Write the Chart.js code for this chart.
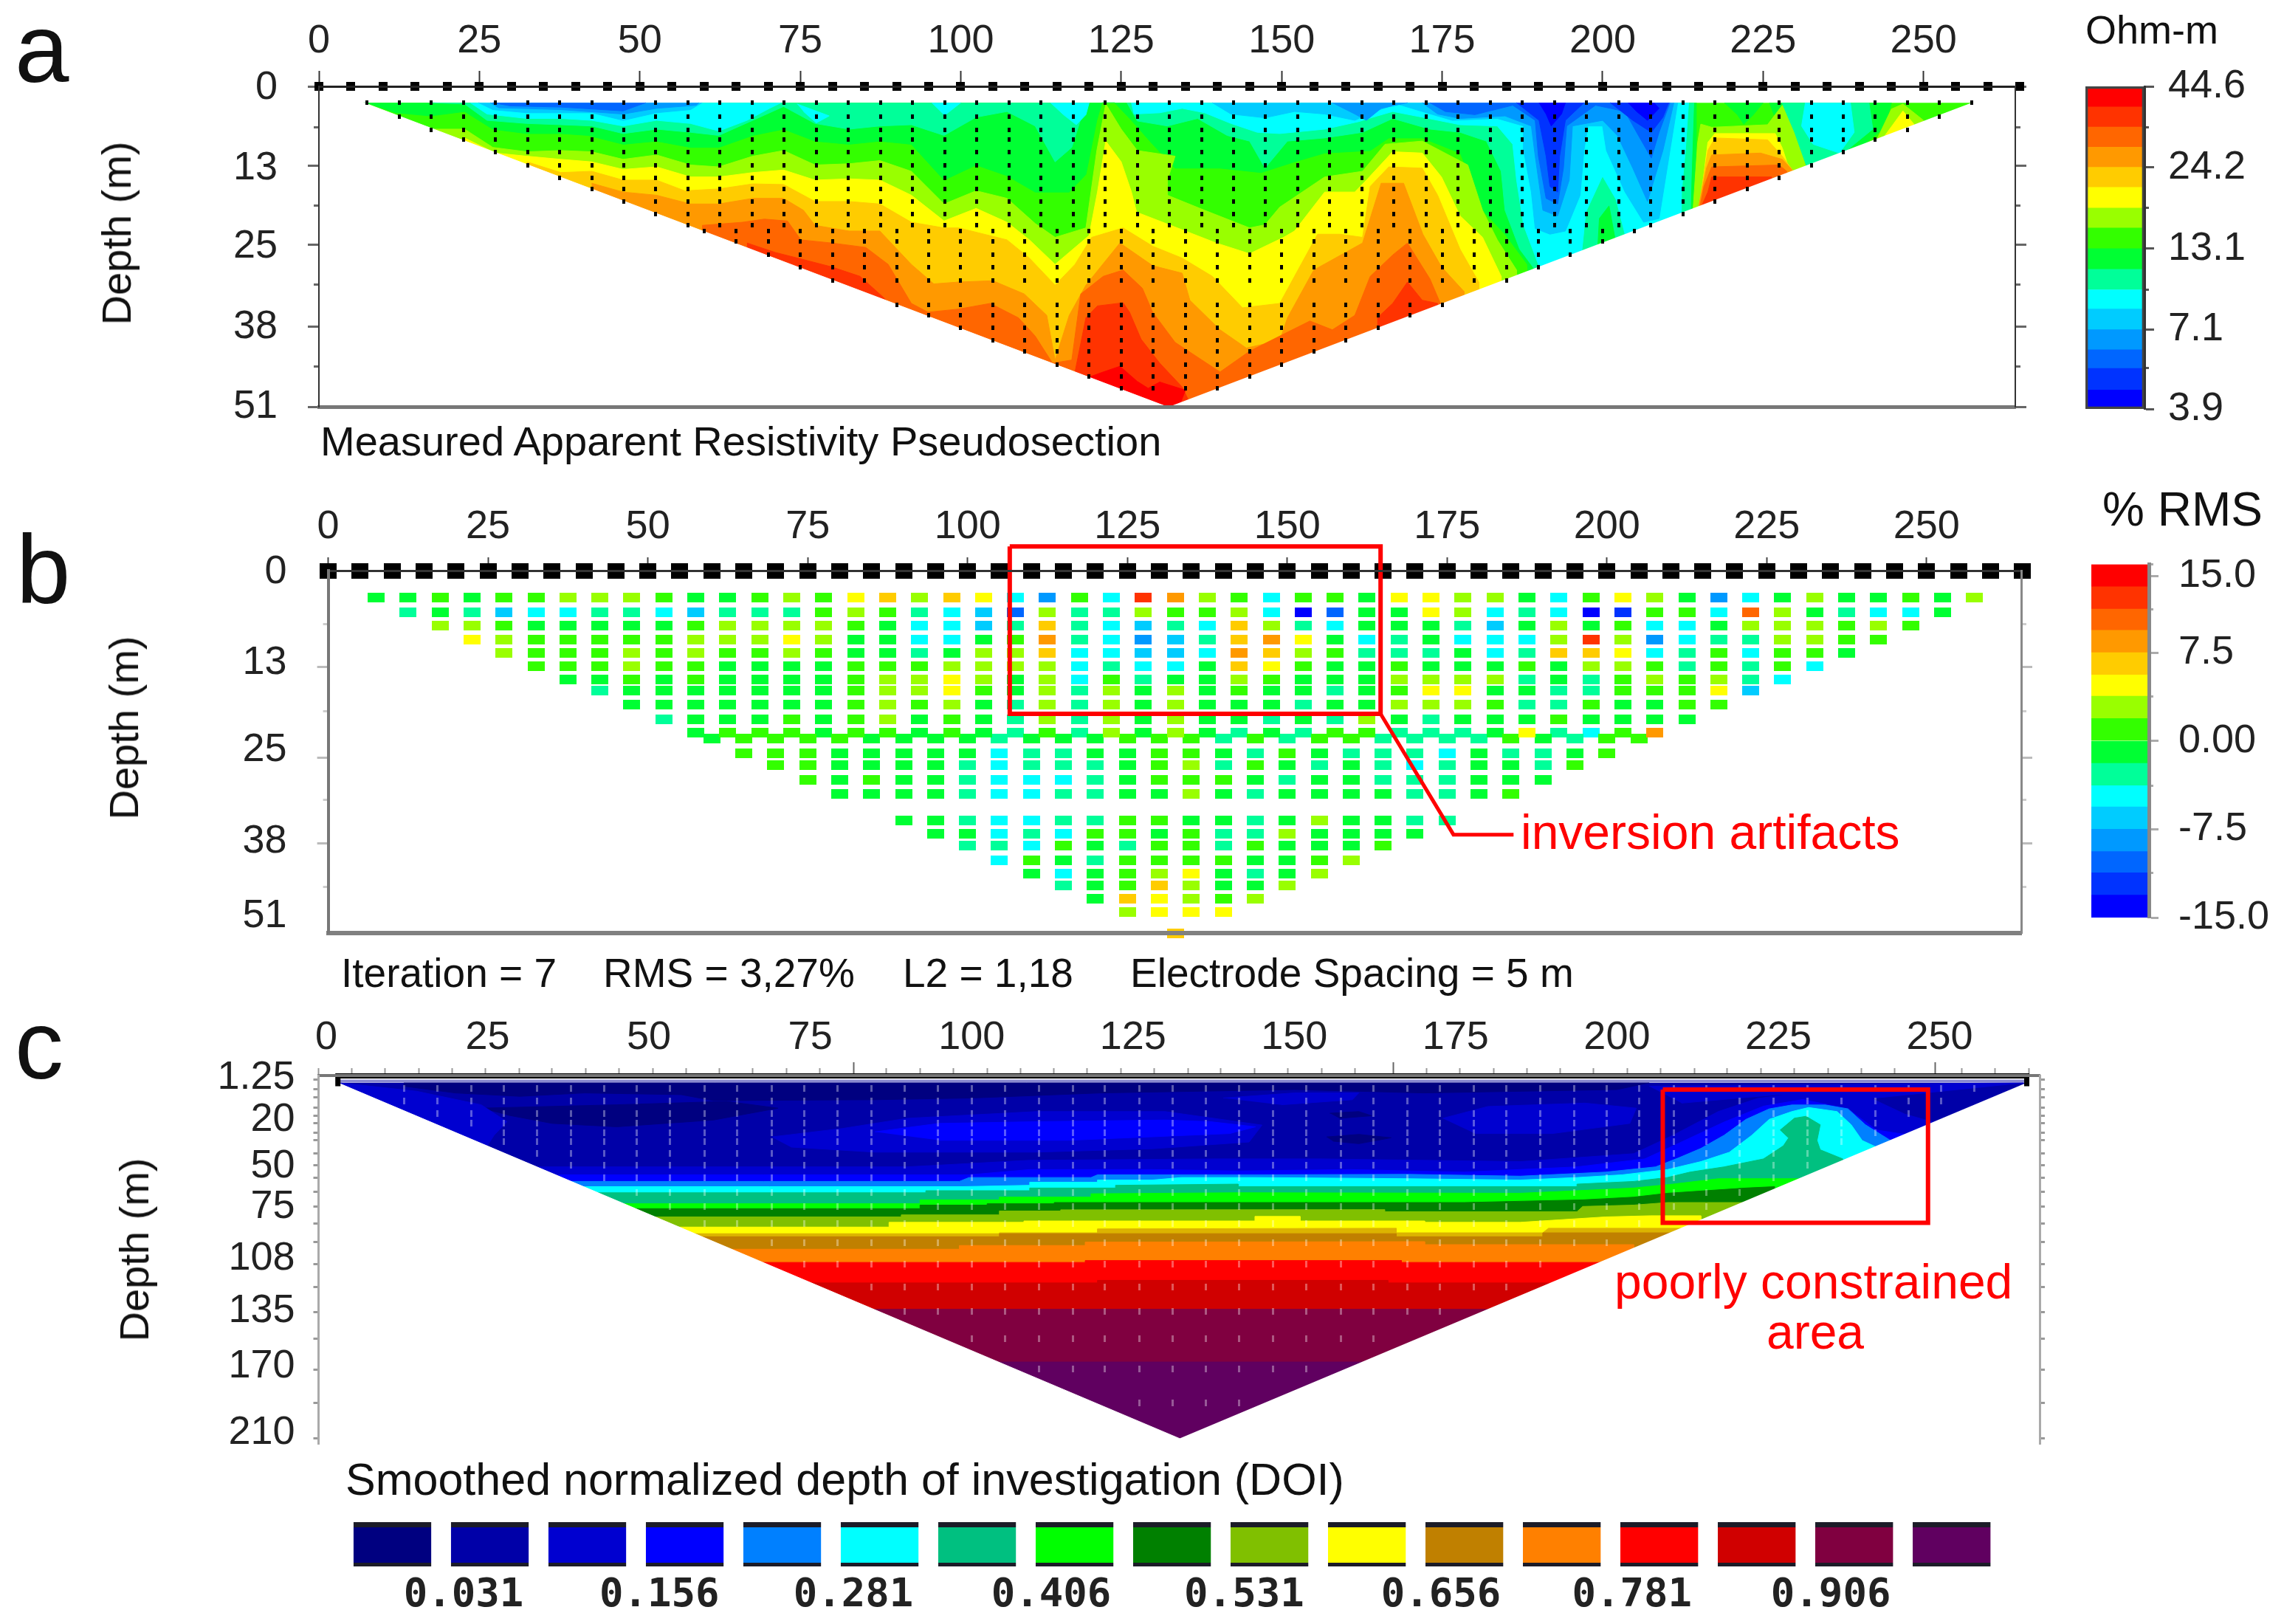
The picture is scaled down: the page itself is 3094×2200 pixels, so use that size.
<!DOCTYPE html>
<html>
<head>
<meta charset="utf-8">
<title>Resistivity sections</title>
<script src="https://cdn.jsdelivr.net/npm/chart.js@4/dist/chart.umd.min.js"></script>
<style>
  html, body { margin: 0; padding: 0; background: #fff; }
  #page { position: relative; width: 3094px; height: 2200px; overflow: hidden; }
  canvas { position: absolute; filter: blur(0.7px); }
  .t { position: absolute; font-family: "Liberation Sans", Arial, sans-serif; color: #111; white-space: nowrap; transform: translateY(-50%); line-height: 1; }
  .v { transform: translate(-50%, -50%) rotate(-90deg); }
  .red { color: #ff0000; }
</style>
</head>
<body>
<div id="page">
  <canvas id="panelA" width="2780" height="640" style="left:0;top:0"></canvas>
  <canvas id="barA" width="294" height="700" style="left:2800px;top:0"></canvas>
  <canvas id="panelB" width="2780" height="720" style="left:0;top:640px"></canvas>
  <canvas id="barB" width="294" height="700" style="left:2800px;top:640px"></canvas>
  <canvas id="panelC" width="2780" height="696" style="left:0;top:1360px"></canvas>
  <canvas id="barC" width="2340" height="160" style="left:420px;top:2040px"></canvas>

  <div class="t" style="left:20px;top:66px;font-size:132px">a</div>
  <div class="t" style="left:22px;top:772px;font-size:132px">b</div>
  <div class="t" style="left:20px;top:1416px;font-size:132px">c</div>
  <div class="t v" style="left:158px;top:316px;font-size:56px">Depth (m)</div>
  <div class="t v" style="left:168px;top:986px;font-size:56px">Depth (m)</div>
  <div class="t v" style="left:182px;top:1693px;font-size:56px">Depth (m)</div>
  <div class="t" style="left:434px;top:598px;font-size:56px">Measured Apparent Resistivity Pseudosection</div>
  <div class="t" style="left:2825px;top:40px;font-size:54px">Ohm-m</div>
  <div class="t" style="left:2848px;top:690px;font-size:64px">% RMS</div>
  <div class="t" style="left:462px;top:1318px;font-size:55px">Iteration = 7</div>
  <div class="t" style="left:817px;top:1318px;font-size:55px">RMS = 3,27%</div>
  <div class="t" style="left:1223px;top:1318px;font-size:55px">L2 = 1,18</div>
  <div class="t" style="left:1531px;top:1318px;font-size:55px">Electrode Spacing = 5 m</div>
  <div class="t red" style="left:2060px;top:1127px;font-size:66px">inversion artifacts</div>
  <div class="t red" style="left:2187px;top:1736px;font-size:66px">poorly constrained</div>
  <div class="t red" style="left:2459px;top:1804px;font-size:66px;transform:translate(-50%,-50%)">area</div>
  <div class="t" style="left:468px;top:2004px;font-size:61px">Smoothed normalized depth of investigation (DOI)</div>
</div>
<script>
// ---- shared values ----
const distanceTicks = [0, 25, 50, 75, 100, 125, 150, 175, 200, 225, 250];
const electrodeX = [0,5,10,15,20,25,30,35,40,45,50,55,60,65,70,75,80,85,90,95,100,105,110,115,120,125,130,135,140,145,150,155,160,165,170,175,180,185,190,195,200,205,210,215,220,225,230,235,240,245,250,255,260,265];
const bandColors = ['#0000ff','#0033ff','#0066ff','#0099ff','#00ccff','#00ffff','#00ff99','#00ff33','#33ff00','#99ff00','#ffff00','#ffcc00','#ff9900','#ff6600','#ff3300','#ff0000'];

// ---- colour bar a (Ohm-m) ----
const rhoLevels = [3.9,4.5,5.3,6.1,7.1,8.3,9.6,11.2,13.1,15.3,17.8,20.8,24.2,28.2,32.8,38.2,44.6];
const rhoTicks = [3.9,7.1,13.1,24.2,44.6];
const rhoMinorTicks = [5.3,9.6,17.8,32.8];

// ---- colour bar b (% RMS) ----
const rmsLevels = [-15,-13.1,-11.2,-9.4,-7.5,-5.6,-3.8,-1.9,0,1.9,3.8,5.6,7.5,9.4,11.2,13.1,15];
const rmsLabelPos = [-15,-7.5,0,7.5,14];
const rmsTickLabels = ['-15.0','-7.5','0.00','7.5','15.0'];
const rmsMinorTicks = [-11.2,-3.8,3.8,11.2,15];

// ---- panel a, depth axis ----
const aDepthLabelPos = [0.2,13,25.5,38.3,51];
const aDepthLabels = ['0','13','25','38','51'];
const aDepthMajor = [0,12.6,25.2,38.2,51];
const aDepthMinor = [6.5,19,31.5,44.5];
const aRowDepth = [2.6,4.8,6.9,8.5,10.5,12.5,14.6,16.3,18.3,20.3,22.1,23,24.7,26.8,28.8,30.9,34.7,36.4,38.4,40.4,42.1,44.2,46.1,48];

// ---- panel a, contours: [distance m, depth m] ----
const aTriangle = [[7,2.6],[132.3,51],[257.5,2.6]];
const aMaskLeft = [[0,2.6],[7,2.6],[132.3,51],[0,51]];
const aMaskRight = [[257.5,2.6],[264.3,2.6],[264.3,51],[132.3,51]];

const aCold00ff33 = [[7,2.6],[8,2.8],[12,4.2],[17.4,4.7],[22.7,4],[27.1,6.8],[32.4,7.5],[37.7,7.5],[42,7.8],[47.4,9.2],[52.6,8.7],[57.9,9.7],[62.3,9.7],[67.6,7.8],[72.4,6.8],[77.3,8.7],[82.6,9.2],[87.4,8.7],[92.3,9.2],[97.4,14.9],[102.4,12.5],[107.2,14.2],[111.6,16.8],[116.9,16.8],[119.5,14],[121.2,5.4],[122,2.6],[124,2.6],[126.6,5.4],[129.9,9.2],[133.4,13],[140.4,13],[146.8,13.7],[152,12],[156.7,10.6],[163.8,10.2],[166.7,8.2],[171.9,8.2],[177.8,10.6],[180.1,15.9],[181.3,19.7],[184.8,23.5],[188.3,28.3],[190,51],[214,51],[214.5,20],[214.6,2.6]];
const aCold00ff33Right = [[226,2.6],[228,8],[231.5,15],[238,11.5],[244,6.5],[245,2.6]];
const aCold00ff33Top = [[219,2.6],[221,4.5],[222,6],[223.5,4.5],[225,2.6]];
const aCold00ff99Left = [[17.4,2.6],[22.7,2.8],[26.2,5.4],[32.4,5.9],[37.7,6.1],[42.5,6.3],[47.4,7.5],[52.6,6.8],[57.9,7.3],[62.3,7.8],[67.6,5.4],[72.4,3.2],[77.3,5.9],[82.6,6.8],[87.4,6.3],[92.3,6.1],[97.4,7.8],[102.4,4.9],[107.2,4],[111.6,6.3],[114.7,12],[117.3,9.7],[119.5,2.6]];
const aCold00ff99Main = [[125.9,2.6],[127.5,5.5],[132.2,6.3],[136.9,5.1],[141.5,7.8],[145,8.7],[147.4,13],[150.9,8.7],[156.7,8.2],[162.6,7.3],[167.3,5.1],[173.1,6.8],[177.8,7.3],[181.9,8.7],[184.2,13.5],[184.8,19.7],[187.1,25.9],[189.5,29.2],[192,51],[213,51],[213.8,14.9],[214.2,2.6]];
const aCold00ff99Right = [[228,2.6],[229.5,8],[232,13],[238,10.2],[242.1,6.8],[241.5,2.6]];
const aCold00ffffLeft = [[23.6,2.6],[26.2,4.4],[32.4,5.1],[37.7,5.1],[42.5,5.4],[47.4,6.3],[52.6,5.4],[57.9,5.9],[62.3,7.1],[66.7,5.4],[70.2,3.5],[72,2.6]];
const aCold00ffffPatch1 = [[74.5,2.8],[79.5,4.7],[77.5,5.8],[75.5,4]];
const aCold00ffffPatch2 = [[95.5,2.6],[97.5,4.6],[100,2.6]];
const aCold00ffffPatch3 = [[114,2.6],[116,4.5],[118,6.1],[119.5,4.5],[120,2.6]];
const aCold00ffffMain = [[126.6,2.6],[127,4.4],[131,4.2],[134.5,3.5],[138,4.2],[142.1,5.9],[146.2,7.3],[149.7,7.5],[156.7,6.8],[162,5.6],[164.9,4.7],[167.3,4],[171.9,4.9],[177.8,6.1],[183.6,6.3],[186,9.2],[186.6,14.9],[187.7,22.1],[190,28.3],[194,51],[212,51],[212.3,16.8],[212.9,10.2],[213.4,2.6]];
const aCold00ffffRight = [[231.6,2.6],[231,6.3],[232.8,9.2],[236.9,10.6],[239.2,7.3],[238.6,2.6]];
const aCold00ccffLeft = [[24.9,2.6],[27.1,3.7],[32.4,4.2],[37.7,4.2],[42.5,4.2],[47.4,5.4],[52.6,4.2],[57.9,3.7],[59.7,2.6]];
const aCold00ccffMain = [[139.2,2.6],[142.1,4.4],[147.4,5],[152,4],[156.7,4.4],[161.4,5.4],[164.4,4],[168,2.8],[171.9,4],[176.6,5.4],[183.6,5.1],[187.7,6.3],[187.7,10.2],[188.9,16.8],[189.5,22.6],[191.8,23.5],[194.2,23],[196.5,17.3],[197.1,10.2],[197.7,6.3],[200,6.3],[200.6,10.2],[203.5,16.8],[206.4,21.6],[208.8,21],[210.5,10.2],[211.7,2.6]];
const aCold0099ffLeft = [[26.7,2.6],[28,3.4],[37.7,3.7],[47.4,4.4],[52.6,3.5],[58.8,3],[59.2,2.6]];
const aCold0099ffMid = [[157.9,2.6],[161.4,4.4],[163.2,5.4],[165.5,3.5],[169.6,2.6]];
const aCold0099ffMain = [[171.9,2.6],[174.3,4.4],[177.8,5.1],[184.8,4.7],[188.9,6.3],[189.5,11.1],[190.7,19.7],[193,20.6],[194.8,14.9],[195.3,6.3],[200,5.4],[202.3,7.8],[204.7,13],[207,18.3],[209.4,10.2],[211.1,2.6]];
const aCold0066ffLeft = [[27.1,2.6],[29.8,3.1],[37.7,3.3],[47.4,3.9],[50.9,2.6]];
const aCold0066ffMain = [[173.1,2.6],[175.5,4],[180.1,4.5],[186,3],[189.5,5.4],[190,11.1],[191.2,17.8],[193,18.7],[193.9,13],[194.4,6.3],[198.9,3],[203.5,4],[205.3,7.3],[207.6,11.4],[208.8,7.3],[210.5,2.6]];
const aCold0033ffA = [[186.6,2.6],[190.1,5.4],[191.2,11.1],[191.8,15.9],[193,16.8],[193.3,11.1],[194.2,5.4],[197.1,2.6]];
const aCold0033ffB = [[201.2,2.6],[204.7,5.4],[207.6,7.3],[209.4,4.9],[210.3,2.6]];
const aCold0000ffA = [[190.1,2.6],[191.2,4.4],[192,6.3],[193.6,4.4],[194.2,2.6]];
const aCold0000ffB = [[204,2.6],[205.3,4],[207,5.4],[208.8,3.5],[208,2.6]];
const aFinger00ff99 = [[196.5,30],[197.5,20],[200,14.5],[202,18],[205,30]];
const aFinger00ff33 = [[199,30],[199.5,21],[201,19],[203,30]];

const aHot99ff00 = [[17.4,6.8],[22.7,6.8],[27.1,9.7],[32.4,10.4],[37.7,10.2],[42.5,10.4],[47.4,11.6],[52.6,10.9],[57.9,12.5],[62.3,12.8],[67.6,11.1],[72.4,10.2],[77.3,12.5],[82.6,12.3],[87.4,11.8],[92.3,13.5],[97.4,18.7],[102.4,16.6],[107.2,17.8],[111.6,21.8],[114.7,24],[119.5,22.5],[121.2,10.2],[122.6,2.8],[125,6.8],[127.5,10.2],[133.4,11.1],[132.2,14.9],[132.2,17.3],[138,19.7],[145,22.5],[147.4,22],[149.7,19.2],[153.2,16.8],[156.7,14.4],[162.6,13.5],[166.1,9.2],[171.9,8.7],[179,12.5],[181.3,19.7],[183.6,24.4],[186.6,29.2],[186.6,51],[17.4,51]];
const aHotffff00 = [[22.7,8.2],[27.5,10.6],[32.4,11.1],[37.7,11.6],[42.5,12],[47.4,13.2],[52.6,12.8],[57.9,14.4],[62.3,14.4],[67.6,13.7],[72.4,13.3],[77.3,14.9],[82.6,14.7],[87.4,14.9],[92.3,17.3],[97.4,21.4],[102.4,19.4],[107.2,21.6],[110.7,24.4],[114.7,28.3],[120,23.7],[121.3,16.8],[122.6,8.7],[125,12],[126.6,16.8],[127.4,20],[134.5,22.8],[139.8,24.9],[145,26.6],[150.3,24],[152,23],[156.7,16.8],[161.4,16.8],[163.2,14.9],[167.3,10.4],[171.9,10.6],[174.9,14.4],[177.8,20.6],[181.3,24],[184.2,30.2],[184.2,51],[22.7,51]];
const aHotffcc00 = [[32.4,12],[37.7,13.7],[42.5,13.5],[47.4,14.9],[52.6,14.9],[57,16.6],[62.3,16.3],[67.6,15.5],[72.4,15.6],[77.3,18.3],[82.6,18.3],[87.4,18.7],[92.3,21.6],[97.4,22.5],[99.7,22.5],[107.2,24.4],[110.7,27.3],[114.7,31.6],[117.8,28.3],[120.4,24],[125.3,22.5],[129.9,25.4],[134.5,27.3],[139.2,30.2],[143.9,35.2],[149.7,34.5],[152,30.2],[155.6,23.5],[159.1,23.5],[162.6,24],[163.8,15.9],[166.7,12.8],[171.9,13],[174.3,17.3],[177.8,25.9],[180.7,31.1],[180.7,51],[32.4,51]];
const aHotff9900 = [[42.5,15.4],[47.4,16.8],[52.6,17.3],[57.9,18.7],[62.3,18.7],[67.6,17.8],[72.4,17.8],[75.5,19.7],[77.3,22.1],[82.6,23],[87.4,23],[92.3,28.3],[95.8,31.4],[99.7,31.1],[105,30.9],[109.9,33],[113.4,36.4],[114.7,43.5],[116.9,36.4],[119.5,31.6],[124.8,24.9],[129.9,28.5],[134.5,29.7],[135.7,34],[140.4,38.7],[144.5,41.6],[149.7,40.4],[150.9,36.8],[155,29.2],[162.6,24.9],[165.5,15.4],[169,15.4],[172,23.5],[174.9,28.7],[178.4,32.6],[178.4,51],[42.5,51]];
const aHotff6600 = [[59.7,22.1],[66,21.6],[69.4,21.1],[73,21.4],[75.1,24.4],[79.9,24.9],[85.2,25.6],[88.7,28.3],[92.3,34.5],[94.9,35.9],[99.7,35.4],[104.6,34.5],[109,36.8],[111.6,39.7],[114.3,44],[117.3,43.5],[118.7,33],[122.2,30.2],[125.3,29.2],[128.3,32.1],[129.9,35.9],[133.4,40.7],[140.4,45.4],[145,42.1],[149.7,39.7],[154.4,37.3],[157.9,38.7],[161.4,36.4],[163.8,30.2],[167.3,26.8],[169.6,24.9],[173.1,30.6],[174.9,34.9],[174.9,51],[59.7,51]];
const aHotff3300Left = [[66.7,24.9],[71.1,26.4],[74.6,27.3],[79.9,28.7],[84.3,30.2],[87.9,33.5],[90,36],[66.7,36]];
const aHotff3300Mid = [[117.8,45.4],[119.5,36.8],[121.3,34.9],[125.3,34.4],[126.3,35.9],[128.1,40.2],[131,44],[134.5,47.8],[136,51],[117.8,51]];
const aHotff3300Right = [[164.9,36.8],[167.3,34.5],[169.6,31.1],[171.9,34],[174.3,34.5],[174.3,51],[164.9,51]];
const aHotff0000 = [[119.5,46.4],[122.2,45.4],[124.8,44.5],[127.5,46.9],[129.2,48],[131,47],[135,48.3],[134,51],[120,51]];
const aBlob99ff00 = [[214,21],[214.8,9],[215.3,6],[217,6.5],[225.7,6.1],[228,3],[229.8,7.3],[231.6,12.5],[231.6,20]];
const aBlobffff00 = [[215.2,18.7],[216.4,8.9],[217.5,7.5],[226.9,7.5],[228,9.8],[229.2,13.6],[229.2,20]];
const aBlobffcc00 = [[215,19],[216.4,10.2],[217.5,8.2],[225.7,8.5],[228,11.1],[229.8,13.6],[229.8,20]];
const aBlobff9900 = [[215,19],[216.2,13],[217,10.9],[224.6,10.6],[228,11.6],[229.8,13.6],[229.8,20]];
const aBlobff6600 = [[215,20],[215.8,15.9],[217,12.8],[227.5,12.5],[228.7,13.5],[228.7,20]];
const aBlobff3300 = [[215,20],[216.4,16.8],[217,14.4],[226.3,14.4],[226.3,20]];
const aSmall99ff00 = [[242,10],[245,3.6],[246.8,2.8],[250,5.4],[250.5,8]];
const aSmallffff00 = [[243,9.2],[246.8,3.9],[248.5,6],[248,8]];
const aSmallffcc00 = [[243.2,9],[245.5,7.7],[247.6,8],[245,9.5]];

// ---- panel b, depth axis ----
const bDepthLabelPos = [0.2,13,25.2,38.1,48.6];
const bDepthLabels = ['0','13','25','38','51'];
const bDepthMajor = [13.6,26.3,38.4];
const bDepthMinor = [7.55,19.8,32.3,44.5];

// ---- panel b, misfit grid: one list per datum level ----
const rowDepth = [3.84,5.92,7.79,9.66,11.63,13.5,15.27,16.93,18.9,20.88,22.75,23.68,25.66,27.42,29.4,31.37,35.11,37.08,38.74,40.72,42.69,44.35,46.12,47.99,51];
const rowStartX = [7.5,12.5,17.5,22.5,27.5,32.5,37.5,42.5,47.5,52.5,57.5,60,65,70,75,80,90,95,100,105,110,115,120,125,132.5];
const rmsRow01 = [-1,-1,1,-1,1,1,3,3,3,1,-1,-1,1,3, 1,5,7,3,7,5,-5,-8,1,-5,12,8,3,1,-5,1, 1,-1,5,5,3,3,-1,-5,1,5,3,-1,-8,-5,-1,3,-1,-1,1,-1,3];
const rmsRow02 = [-3,-1,-3,-7,-5,-5,-3,-3,-5,-7,-3,-3,-3, 1,3,1,-3,-5,-7,-10,3,-3,-3,3,1,1,3,-5,-14, -10,-1,-1,5,3,-5,-3,-5,-14,-12,1,1,-5,10,3,-1,-3,-5,-5,-1];
const rmsRow03 = [3,3,1,-1,-1,-1,-1,-1,1,3,3,3, 3,1,-1,-5,-5,-7,-3,7,-3,-5,-7,-3,-5,7,3,-3, -5,-1,-1,-1,-3,-7,-1,3,-1,1,-5,-5,-1,3,3,3,1,3,1];
const rmsRow04 = [5,3,1,1,1,1,1,3,3,3,5, 3,-1,-1,-5,-5,-1,1,8,-3,-5,-8,-7,-3,7,8,5, -1,-5,-3,-1,-5,-5,-5,3,12,3,-8,-5,-3,-3,3,3,1,1];
const rmsRow05 = [3,1,1,1,3,1,3,1,1,3, 1,-1,-1,-3,-1,3,3,7,-5,-5,-7,-7,-5,8,7,3, 1,-3,-3,-3,-1,-5,-3,7,7,5,-5,-3,1,-5,1,1,-1];
const rmsRow06 = [1,1,1,3,1,1,-1,-1,-1, -1,1,1,1,3,3,3,3,-5,-3,-5,-5,-1,7,5,1, -1,-1,1,-1,-1,-1,1,-1,3,3,1,-3,1,-3,1,-5];
const rmsRow07 = [-1,-1,1,-1,1,-1,-1,-1, -1,1,3,3,5,3,-1,3,-5,1,-3,-1,-1,3,1,-1, -1,-1,3,3,3,3,-3,-1,-3,1,3,1,3,-3,-5];
const rmsRow08 = [-3,-1,-1,-1,-1,-1,-1, -1,1,3,3,5,1,-1,3,-3,3,-1,3,-1,1,-1,-1, -3,-1,1,5,5,-1,-1,-3,-3,1,1,1,5,-7];
const rmsRow09 = [-1,-1,-1,-1,-1,-1, -1,1,3,1,3,-1,-3,3,-3,3,-1,3,-1,-1,-1,-3, -1,-1,3,3,3,1,-3,-3,1,-1,-1,1,1];
const rmsRow10 = [-3,-1,-1,-1,1, -1,1,3,-1,1,-1,-3,3,-3,3,-1,3,-1,-1,-3,-1, -3,3,-1,-3,-1,-1,-1,1,-1,-1,-1,-1];
const rmsRow11 = [-1,1,1,1, -1,1,1,-1,1,-1,-3,1,-3,3,-1,3,-1,-3,-1,-3, 1,1,-3,-3,-3,-1,5,-3,-5,1,8];
const rmsRow12 = [-1,1,1, 1,1,-1,-1,-1,-1,-3,-1,-1,-1,1,1,1,-3,1,-3, 1,1,-3,-3,-3,-3,1,-1,-3,1,1];
const rmsRow13 = [1,1,1,-1,-1,-1,-1,-1,-5,-3,-3,-1,-1,1,1,-1,-3,1,-1,-3,-3,-3,-5,-1,-3,-3,-1,1];
const rmsRow14 = [1,1,-1,-1,-1,-1,-3,-5,-3,-3,-3,-1,1,3,-3,1,-1,-3,-1,-3,-5,-3,-1,-1,-3,1];
const rmsRow15 = [1,-1,1,-1,-1,-3,-5,-5,-5,-3,-1,1,1,1,-1,-3,-1,-1,-3,-3,-3,-1,-1,-1];
const rmsRow16 = [-1,-1,-1,-1,-3,-5,-5,-3,-3,-1,-1,3,-1,-3,-1,-1,-1,-1,-3,-3,-1,1];
const rmsRow17 = [-1,-1,-3,-5,-5,-3,-3,1,1,-1,-1,-3,-1,3,-1,-1,-3,-3];
const rmsRow18 = [-1,-1,-5,-3,-5,1,1,-1,1,-3,-3,3,-1,-1,-1,-1];
const rmsRow19 = [-3,-3,-5,1,-1,-3,1,1,-3,1,-1,-1,-1,1];
const rmsRow20 = [-5,1,-1,-3,1,1,1,1,-1,-1,1,3];
const rmsRow21 = [-1,-5,-1,1,3,5,-1,-3,-1,3];
const rmsRow22 = [-3,-1,1,7,3,-1,-1,3];
const rmsRow23 = [-1,7,5,3,1,3];
const rmsRow24 = [3,5,5,5];
const rmsRow25 = [7];
const rmsRows = [rmsRow01,rmsRow02,rmsRow03,rmsRow04,rmsRow05,rmsRow06,rmsRow07,rmsRow08,rmsRow09,rmsRow10,rmsRow11,rmsRow12,rmsRow13,rmsRow14,rmsRow15,rmsRow16,rmsRow17,rmsRow18,rmsRow19,rmsRow20,rmsRow21,rmsRow22,rmsRow23,rmsRow24,rmsRow25];

// annotation boxes, in axis units
const bArtifactBox = [[106.6,-3.4],[164.6,-3.4],[164.6,20.15],[106.6,20.15],[106.6,-3.4]];
const bArtifactLeader = [[164.6,20.15],[176,37.15],[185.4,37.15]];
const cPoorBox = [[207.1,7],[248.2,7],[248.2,85.8],[207.1,85.8],[207.1,7]];

// ---- panel c, axes ----
const cDepthLabelPos = [0,24.9,52.4,76.4,107,138,170.7,210];
const cDepthLabels = ['1.25','20','50','75','108','135','170','210'];
const cDepthMarks = [1.2,6.7,11.4,17.6,22.3,27,32.4,37.1,44.9,51.9,59,67.5,76.1,86.2,97.2,110.4,123.7,138.5,154.1,172.5,192.3,213.3];
const cTopMinor = [-1.2,4,9.1,14.3,19.5,24.7,29.9,35,40.2,45.4,50.6,55.8,60.9,66.1,71.3,76.5,86.8,92,97.2,102.4,107.6,112.7,117.9,123.1,128.3,133.5,138.6,143.8,149,154.2,159.4,170.5,175.7,180.9,186.1,191.2,196.4,201.6,206.8,212,217.1,222.3,227.5,232.7,237.9,243,253.4,258.6,263.8];
const cTopMajor = [81.7,165.4,249.3];
const cDotRows = [6.2,13.7,21.2,27,32.4,37.9,44.6,51.6,59.3,67.8,76.1,86.2,97.5,110.4,123.7,138,154.1,172,192.3];
const cDotColumns = [6.8,12.1,17.2,22.5,27.5,32.7,37.9,43.1,48.1,53.3,58.6,63.7,69,74.1,79.2,84.5,89.6,94.8,100,105.2,110.5,115.7,120.6,126,131.1,136.3,141.5,146.7,151.9,157.2,162.3,167.5,172.6,177.8,182.9,188.1,193.4,198.4,203.5,208.8,213.9,219,224.3,229.5,234.8,240,245.2,250.2,255.4,260.5];

// ---- panel c, DOI bands: [distance m, axis depth] ----
const cTriangle = [[1.8,3],[132.2,213.3],[263.5,3]];
const cMaskLeft = [[-1.2,3],[1.8,3],[132.2,213.3],[132.2,216.5],[-1.2,216.5]];
const cMaskRight = [[263.5,3],[265.5,3],[265.5,216.5],[132.2,216.5],[132.2,213.3]];
const cNavyTop = [[12,3],[205,3],[200,7],[170,9],[150,7],[120,9],[100,12],[85,13],[60,13.5],[55,10],[40,9],[30,11],[20,9],[12,5]];
const cNavyLeft = [[24,18],[45,16],[62,14],[70,18],[60,25],[45,29],[35,27],[28,22]];
const cNavySmallA = [[155,35],[160,33.5],[165,35.5],[160,39],[156,37.5]];
const cNavySmallB = [[155.5,21],[160,20],[162,22.5],[157,24]];
const cBlueLeft = [[2,3],[14,8],[24,16],[28,26],[26,34],[25,40],[15,30]];
const cBlueMid = [[69,35],[80,30],[90,24],[110,20],[130,20],[145,28],[143,38],[128,42],[110,44],[85,44],[72,41]];
const cBlueRight = [[173,24],[180,17],[195,15],[203,18],[202,27],[190,33],[178,33]];
const cBlueUpper = [[139,12],[150,9],[160,9],[159,13],[148,16]];
const cBlueCorner = [[205,5],[263,3],[240,12],[225,10],[210,15]];
const cBrightMid = [[85,32],[95,27],[110,26],[130,25],[137,26],[144,29],[140,33],[115,37],[95,37]];
const cTop0000d0 = [[30.3,52.7],[90,52.7],[109,48.8],[137.5,48],[154.4,48],[185,49.6],[202.6,44.9],[208.7,34],[215.7,20],[221.8,12.2],[228.8,9],[237.6,9],[244.6,21.5],[249,26.2],[260,30]];
const cTop0000ff = [[36,57.4],[99.6,57.4],[109,54.3],[128,54.3],[141.3,55.1],[158.8,54.3],[176.3,55.8],[193.8,52.7],[204.3,48],[209.6,38.7],[216.6,26.2],[222.7,16.8],[228.8,12.9],[235.8,18.4],[240.2,30.9],[245.5,34],[246,50]];
const cTop0080ff = [[37.4,61.3],[98.1,61.3],[99.6,59],[118.5,59],[119.5,57.4],[143.9,57.4],[167.5,57.1],[185,58.2],[198.2,55.8],[206,52.7],[209.6,47.3],[213,41.8],[216.6,34],[220,24.6],[223.6,18.4],[227.1,16.1],[232.3,16.1],[235.8,18.4],[238.5,27.8],[241.1,34],[242.4,37.1],[243,60]];
const cTop00ffff = [[38.8,64.4],[98.6,64.4],[109,63.6],[109,61.8],[119.5,61.8],[119.5,60.5],[128,60.5],[132.5,59],[143.9,59],[167.5,59.7],[185,60.5],[193.8,59],[200.8,57.4],[207.8,54.3],[213,49.6],[217.4,44.1],[220.9,34],[223.6,24.6],[227.1,20],[229.7,17.6],[234.1,20],[236.3,27.8],[238,37.1],[240.2,41],[240.6,70]];
const cTop00c080 = [[40.7,68],[92.9,68],[92.9,66.8],[109,66.8],[109,65.2],[122.3,65.2],[122.3,63.6],[141.3,62.9],[141.3,64.4],[193.8,64.4],[193.8,62.9],[202.6,61.3],[207.8,59],[211.3,55.8],[216.6,52.7],[222.7,48],[225.8,40.2],[226.6,35.6],[225.3,30.9],[227.5,23.9],[229.3,22.8],[231.5,27.8],[231,37.1],[231.5,42.6],[235,48],[236,90]];
const cTop00ff00 = [[44.5,74.5],[92,74.5],[92,72.2],[104.3,72.2],[104.3,70.6],[118.5,70.6],[118.5,68.6],[141.3,68],[185,68.3],[193.8,66.8],[202.6,65.2],[208.7,62.9],[215.7,59.7],[228.8,59.7]];
const cTop008000 = [[46.9,77.4],[92,77.4],[92,75.3],[102.4,75.3],[102.4,74.5],[112.8,74.5],[112.8,73.8],[176.3,73.8],[194.7,72.2],[202.6,70.6],[207.8,68.3],[220,65.2],[224.4,64.4]];
const cTop80c000 = [[50.2,82.3],[89.1,82.3],[89.1,81.1],[104.3,81.1],[104.3,78.8],[113.8,78.8],[113.8,78.1],[164,78],[164,79.2],[193.8,79.2],[194.7,76.1],[202.6,75.3],[207.8,73.8],[220,73.8]];
const cTopffff00 = [[54,88.3],[87.2,88.3],[87.2,85.5],[108.1,85.5],[108.1,84.7],[143.9,84.7],[143.9,82],[150.9,82],[150.9,84.7],[170.2,84.7],[170.2,85.5],[185,85.5],[198.2,82.3],[205.2,81.6],[213,81.6]];
const cTopdcb400 = [[55.9,92.2],[104.3,92.2],[104.3,91.7],[119.5,91.7],[119.5,89.4],[165.8,89],[165.8,91.7],[188.5,91.7],[189.4,89],[211.3,89]];
const cTopc08000 = [[56.9,94],[104.3,94],[104.3,92.2],[165.8,92.2],[165.8,94],[188.5,94],[188.5,91.7],[211.3,91.7]];
const cTopff8000 = [[61.6,101.4],[98.1,101.4],[98.1,99.2],[117.6,99.2],[117.6,97.2],[170.2,96.9],[170.2,98.7],[202.6,98.7]];
const cTopff0000 = [[66.4,109.2],[117.6,109.2],[117.6,108.1],[166.6,108.1],[166.6,109.2],[198.2,109.2]];
const cTopd00000 = [[73.9,121.3],[119.5,121.3],[119.5,119.8],[164.5,119.8],[164.5,121.3],[189.4,121.3]];
const cTop800040 = [[83.4,136.9],[180.7,136.9]];
const cTop600060 = [[104.3,168.1],[160.5,168.1]];

// ---- DOI legend ----
const doiColors = ['#000080','#0000a8','#0000d0','#0000ff','#0080ff','#00ffff','#00c080','#00ff00','#008000','#80c000','#ffff00','#c08000','#ff8000','#ff0000','#d00000','#800040','#600060'];
const doiSwatchX = [0,1,2,3,4,5,6,7,8,9,10,11,12,13,14,15,16];
const doiTickPos = [0.73,2.74,4.73,6.76,8.74,10.76,12.72,14.76];
const doiTickLabels = ['0.031','0.156','0.281','0.406','0.531','0.656','0.781','0.906'];

// ---- helpers ----
const tickFont = { family: '"Liberation Sans", Arial, sans-serif', size: 54 };
const tickColor = '#222';

function makeRect(w, h, color) {
  const c = document.createElement('canvas');
  c.width = w; c.height = h;
  const g = c.getContext('2d');
  g.fillStyle = color;
  g.fillRect(0, 0, w, h);
  return c;
}
function pts(list) { return list.map(p => ({ x: p[0], y: p[1] })); }
function poly(list, color) {
  return { data: pts(list), showLine: true, fill: 'shape', backgroundColor: color, borderColor: color, borderWidth: 1, pointRadius: 0, tension: 0 };
}
// band whose upper edge is given: closed down to the bottom of the plot
function polyDown(list, color, bottom) {
  const last = list[list.length - 1], first = list[0];
  return poly(list.concat([[last[0], bottom], [first[0], bottom]]), color);
}
function line(list, color, width) {
  return { data: pts(list), showLine: true, fill: false, borderColor: color, borderWidth: width, pointRadius: 0, tension: 0, clip: false };
}
function marks(list, img) {
  return { data: pts(list), showLine: false, pointStyle: img, pointRadius: 6, clip: false };
}
// axis that carries tick marks only, no room taken in the layout
function markAxis(pos, values, len, width, color, min, max, border, type) {
  const horiz = pos === 'top' || pos === 'bottom';
  return {
    type: type || 'linear', position: pos, min: min, max: max, weight: -1,
    reverse: !horiz && !type,
    afterBuildTicks: s => { s.ticks = values.map(v => ({ value: v })); },
    afterFit: s => { if (horiz) s.height = 0; else s.width = 0; },
    ticks: { display: false, autoSkip: false },
    grid: { drawOnChartArea: false, drawTicks: true, tickLength: len, tickWidth: width, tickColor: color },
    border: border ? { display: true, color: border.color, width: border.width, z: 1 } : { display: false }
  };
}
// axis that carries the labels
function labelAxis(pos, values, labels, size, pad, min, max, font) {
  const horiz = pos === 'top' || pos === 'bottom';
  return {
    type: 'linear', position: pos, min: min, max: max, offset: false,
    reverse: !horiz,
    afterBuildTicks: s => { s.ticks = values.map(v => ({ value: v })); },
    afterFit: s => { if (horiz) s.height = size; else s.width = size; },
    ticks: { font: font || tickFont, color: tickColor, padding: pad, autoSkip: false, maxRotation: 0, callback: (v, i) => labels[i] },
    grid: { display: false, drawTicks: false, offset: false },
    border: { display: false }
  };
}
function draw(id, datasets, scales, padding) {
  datasets.forEach((d, i) => { d.order = -i; });
  return new Chart(document.getElementById(id), {
    type: 'scatter',
    data: { datasets: datasets },
    options: {
      responsive: false, animation: false, events: [],
      layout: { padding: padding },
      plugins: { legend: { display: false }, tooltip: { enabled: false } },
      scales: scales
    }
  });
}
function measureGrid(depths) {
  const out = [];
  rmsRows.forEach((row, r) => {
    if (r >= depths.length) return;
    row.forEach((v, j) => out.push([rowStartX[r] + j * 5, depths[r]]));
  });
  return out;
}
function rmsBand(v) {
  let b = 0;
  for (let i = 0; i < 16; i++) if (v >= rmsLevels[i]) b = i;
  return b;
}

// ---- panel a ----
const aSets = [
  poly(aTriangle, '#33ff00'),
  poly(aCold00ff33, '#00ff33'), poly(aCold00ff33Right, '#00ff33'), poly(aCold00ff33Top, '#00ff33'),
  poly(aCold00ff99Left, '#00ff99'), poly(aCold00ff99Main, '#00ff99'), poly(aCold00ff99Right, '#00ff99'),
  poly(aCold00ffffLeft, '#00ffff'), poly(aCold00ffffPatch1, '#00ffff'), poly(aCold00ffffPatch2, '#00ffff'), poly(aCold00ffffPatch3, '#00ffff'), poly(aCold00ffffMain, '#00ffff'), poly(aCold00ffffRight, '#00ffff'),
  poly(aCold00ccffLeft, '#00ccff'), poly(aCold00ccffMain, '#00ccff'),
  poly(aCold0099ffLeft, '#0099ff'), poly(aCold0099ffMid, '#0099ff'), poly(aCold0099ffMain, '#0099ff'),
  poly(aCold0066ffLeft, '#0066ff'), poly(aCold0066ffMain, '#0066ff'),
  poly(aCold0033ffA, '#0033ff'), poly(aCold0033ffB, '#0033ff'),
  poly(aCold0000ffA, '#0000ff'), poly(aCold0000ffB, '#0000ff'),
  poly(aFinger00ff99, '#00ff99'), poly(aFinger00ff33, '#00ff33'),
  poly(aHot99ff00, '#99ff00'), poly(aHotffff00, '#ffff00'), poly(aHotffcc00, '#ffcc00'), poly(aHotff9900, '#ff9900'), poly(aHotff6600, '#ff6600'),
  poly(aHotff3300Left, '#ff3300'), poly(aHotff3300Mid, '#ff3300'), poly(aHotff3300Right, '#ff3300'), poly(aHotff0000, '#ff0000'),
  poly(aBlob99ff00, '#99ff00'), poly(aBlobffff00, '#ffff00'), poly(aBlobffcc00, '#ffcc00'), poly(aBlobff9900, '#ff9900'), poly(aBlobff6600, '#ff6600'), poly(aBlobff3300, '#ff3300'),
  poly(aSmall99ff00, '#99ff00'), poly(aSmallffff00, '#ffff00'), poly(aSmallffcc00, '#ffcc00'),
  poly(aMaskLeft, '#ffffff'), poly(aMaskRight, '#ffffff'),
  marks(measureGrid(aRowDepth), makeRect(4, 6, '#000000')),
  marks(electrodeX.map(x => [x, 0]), makeRect(12, 12, '#000000'))
];
draw('panelA', aSets, {
  x: labelAxis('top', distanceTicks, distanceTicks, 117, 28, 0, 264.3),
  y: labelAxis('left', aDepthLabelPos, aDepthLabels, 432, 56, 0, 51),
  xLine: markAxis('top', distanceTicks, 21, 2, '#333', 0, 264.3, { color: '#222', width: 3 }),
  xBase: markAxis('bottom', [], 0, 0, '#777', 0, 264.3, { color: '#777', width: 5 }),
  yLine: markAxis('left', aDepthMajor, 15, 3, '#666', 0, 51, { color: '#333', width: 2 }),
  yMin: markAxis('left', aDepthMinor, 7, 3, '#666', 0, 51),
  yRight: markAxis('right', aDepthMajor, 15, 3, '#666', 0, 51, { color: '#333', width: 2 }),
  yRightMin: markAxis('right', aDepthMinor, 7, 3, '#666', 0, 51)
}, { right: 50, bottom: 86 });

// ---- panel b ----
const bSets = [];
bandColors.forEach((color, band) => {
  const list = [];
  rmsRows.forEach((row, r) => row.forEach((v, j) => {
    if (rmsBand(v) === band) list.push([rowStartX[r] + j * 5, rowDepth[r]]);
  }));
  bSets.push(marks(list, makeRect(23, 13, color)));
});
bSets.push(marks(electrodeX.map(x => [x, 0]), makeRect(23, 21, '#000000')));
bSets.push(line(bArtifactBox, '#ff0000', 6));
bSets.push(line(bArtifactLeader, '#ff0000', 5));
draw('panelB', bSets, {
  x: labelAxis('top', distanceTicks, distanceTicks, 133, 26, 0, 264.8),
  y: labelAxis('left', bDepthLabelPos, bDepthLabels, 444.6, 56, 0, 51),
  xLine: markAxis('top', distanceTicks, 18, 2, '#444', 0, 264.8, { color: '#333', width: 3 }),
  xBase: markAxis('bottom', [], 0, 0, '#808080', 0, 264.8, { color: '#808080', width: 6 }),
  yLine: markAxis('left', bDepthMajor, 15, 3, '#bbb', 0, 51, { color: '#777', width: 4 }),
  yMin: markAxis('left', bDepthMinor, 7, 3, '#ccc', 0, 51),
  yRight: markAxis('right', bDepthMajor, 15, 3, '#bbb', 0, 51, { color: '#888', width: 3 }),
  yRightMin: markAxis('right', bDepthMinor, 7, 3, '#ccc', 0, 51)
}, { right: 42, bottom: 96 });

// ---- panel c ----
const cDots = [];
cDotRows.forEach(d => cDotColumns.forEach(x => {
  if (Math.abs(x - 132.5) < (213.3 - d) / 1.613 - 3) cDots.push([x, d]);
}));
const cBottom = 215;
const cSets = [
  poly(cTriangle, '#0000a8'),
  poly(cNavyTop, '#000080'), poly(cNavyLeft, '#000080'), poly(cNavySmallA, '#000080'), poly(cNavySmallB, '#000080'),
  poly(cBlueLeft, '#0000d0'), poly(cBlueMid, '#0000d0'), poly(cBlueRight, '#0000d0'), poly(cBlueUpper, '#0000d0'), poly(cBlueCorner, '#0000d0'),
  poly(cBrightMid, '#0000ff'),
  polyDown(cTop0000d0, '#0000d0', cBottom), polyDown(cTop0000ff, '#0000ff', cBottom), polyDown(cTop0080ff, '#0080ff', cBottom),
  polyDown(cTop00ffff, '#00ffff', cBottom), polyDown(cTop00c080, '#00c080', cBottom), polyDown(cTop00ff00, '#00ff00', cBottom),
  polyDown(cTop008000, '#008000', cBottom), polyDown(cTop80c000, '#80c000', cBottom), polyDown(cTopffff00, '#ffff00', cBottom),
  polyDown(cTopdcb400, '#dcb400', cBottom), polyDown(cTopc08000, '#c08000', cBottom), polyDown(cTopff8000, '#ff8000', cBottom),
  polyDown(cTopff0000, '#ff0000', cBottom), polyDown(cTopd00000, '#d00000', cBottom), polyDown(cTop800040, '#800040', cBottom),
  polyDown(cTop600060, '#600060', cBottom),
  poly(cMaskLeft, '#ffffff'), poly(cMaskRight, '#ffffff'),
  marks(cDots, makeRect(3, 9, 'rgba(255,255,255,0.35)')),
  line([[1.8, 2], [263.5, 2]], '#8a8ad0', 4),
  line([[1.8, 5], [1.8, -1.1], [263.5, -1.1], [263.5, 5]], '#000000', 7),
  line(cPoorBox, '#ff0000', 6)
];
draw('panelC', cSets, {
  x: labelAxis('top', distanceTicks, distanceTicks, 97, 18, -1.2, 265.5),
  y: labelAxis('left', cDepthLabelPos, cDepthLabels, 431.5, 32, -1.3, 216.5),
  xLine: markAxis('top', cTopMinor, 10, 2, '#999', -1.2, 265.5, { color: '#777', width: 4 }),
  xMaj: markAxis('top', cTopMajor, 18, 2, '#666', -1.2, 265.5),
  yLine: markAxis('left', cDepthMarks, 7, 3, '#999', -1.3, 216.5, { color: '#aaa', width: 3 }),
  yRight: markAxis('right', cDepthMarks, 7, 3, '#999', -1.3, 216.5, { color: '#aaa', width: 3 })
}, { right: 17, bottom: 100 });

// ---- colour bars a and b ----
function colourBar(id, levels, type, min, max, tickVals, tickLabels, minorVals, pad, labelPad, lineStyle, outline) {
  const sets = bandColors.map((color, i) => ({ data: [[levels[i], levels[i + 1]]], backgroundColor: color, barPercentage: 1, categoryPercentage: 1 }));
  if (outline) sets.unshift({ data: [[min, max]], backgroundColor: 'rgba(0,0,0,0)', borderColor: outline, borderWidth: 3, borderSkipped: false, barPercentage: 1, categoryPercentage: 1 });
  new Chart(document.getElementById(id), {
    type: 'bar',
    data: { labels: ['band'], datasets: sets },
    options: {
      responsive: false, animation: false, events: [],
      layout: { padding: { left: pad.left, top: pad.top, bottom: pad.bottom } },
      plugins: { legend: { display: false }, tooltip: { enabled: false } },
      scales: {
        x: { display: false, stacked: true },
        y: {
          type: type, position: 'right', min: min, max: max,
          afterBuildTicks: s => { s.ticks = tickVals.map(v => ({ value: v })); },
          afterFit: s => { s.width = pad.boxWidth; },
          ticks: { font: tickFont, color: tickColor, padding: labelPad, autoSkip: false, callback: (v, i) => tickLabels[i] },
          grid: { drawOnChartArea: false, drawTicks: true, tickLength: 13, tickWidth: 3, tickColor: lineStyle.tick },
          border: { display: true, color: lineStyle.color, width: lineStyle.width, z: 1 }
        },
        yMin: markAxis('right', minorVals, 6, 3, lineStyle.tick, min, max, null, type)
      }
    }
  });
}
colourBar('barA', rhoLevels, 'logarithmic', 3.9, 44.6, rhoTicks, rhoTicks.map(String), rhoMinorTicks,
  { left: 25, top: 117, bottom: 146, boxWidth: 189 }, 19, { color: '#333', width: 3, tick: '#555' }, '#444');
colourBar('barB', rmsLevels, 'linear', -15, 15, rmsLabelPos, rmsTickLabels, rmsMinorTicks,
  { left: 33, top: 124.5, bottom: 97, boxWidth: 183 }, 27, { color: '#888', width: 5, tick: '#aaa' }, null);

// ---- DOI legend ----
new Chart(document.getElementById('barC'), {
  type: 'bar',
  data: {
    datasets: [{
      data: doiSwatchX.map(i => ({ x: i, y: 1 })),
      backgroundColor: doiColors,
      borderColor: '#1c1c28',
      borderWidth: { top: 7, bottom: 5, left: 0, right: 0 },
      borderSkipped: false,
      barPercentage: 1,
      categoryPercentage: 0.8
    }]
  },
  options: {
    responsive: false, animation: false, events: [],
    layout: { padding: { top: 22 } },
    plugins: { legend: { display: false }, tooltip: { enabled: false } },
    scales: {
      x: labelAxis('bottom', doiTickPos, doiTickLabels, 78, 8, -0.845, 16.88, { family: '"DejaVu Sans Mono", monospace', size: 54, weight: 'bold' }),
      y: { display: false, min: 0, max: 1 }
    }
  }
});
</script>
</body>
</html>
